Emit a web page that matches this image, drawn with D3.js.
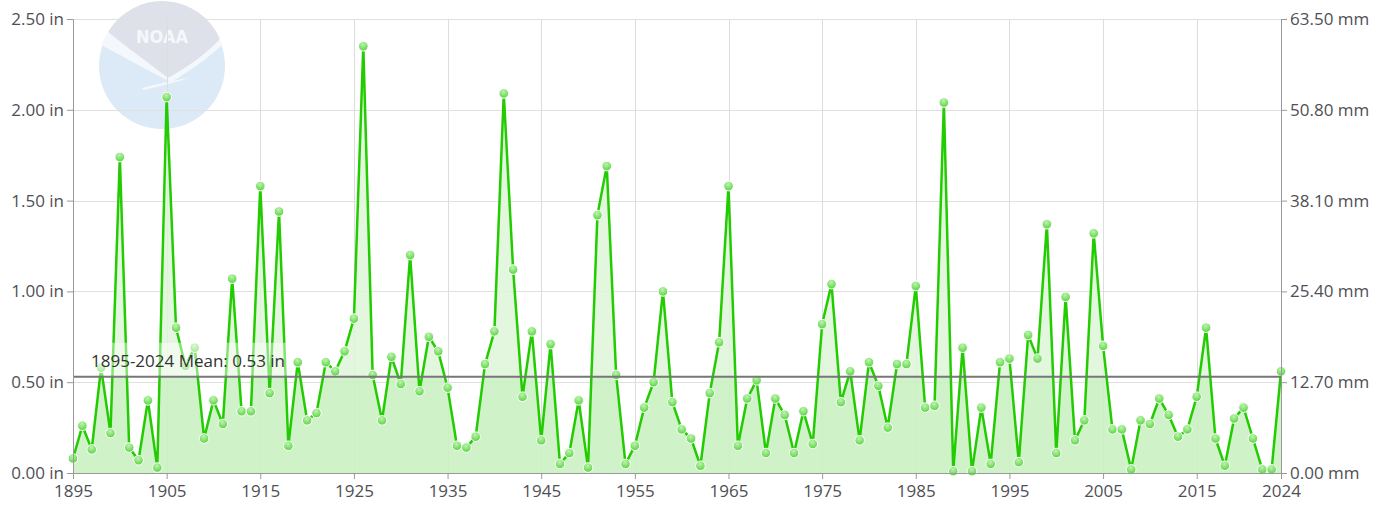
<!DOCTYPE html>
<html>
<head>
<meta charset="utf-8">
<script src="https://cdn.jsdelivr.net/npm/d3@7"></script>
<style>
  body { margin: 0; background: #fff; }
  text { font-family: "Open Sans", sans-serif; }
</style>
</head>
<body>
<svg id="chart" width="1390" height="508"></svg>
<script>
// yearly values, 1895-2024 (inches)
const years = d3.range(1895, 2025);
const precip = [
  0.08, 0.26, 0.13, 0.58, 0.22, 1.74, 0.14, 0.07, 0.40, 0.03,
  2.07, 0.80, 0.59, 0.69, 0.19, 0.40, 0.27, 1.07, 0.34, 0.34,
  1.58, 0.44, 1.44, 0.15, 0.61, 0.29, 0.33, 0.61, 0.56, 0.67,
  0.85, 2.35, 0.54, 0.29, 0.64, 0.49, 1.20, 0.45, 0.75, 0.67,
  0.47, 0.15, 0.14, 0.20, 0.60, 0.78, 2.09, 1.12, 0.42, 0.78,
  0.18, 0.71, 0.05, 0.11, 0.40, 0.03, 1.42, 1.69, 0.54, 0.05,
  0.15, 0.36, 0.50, 1.00, 0.39, 0.24, 0.19, 0.04, 0.44, 0.72,
  1.58, 0.15, 0.41, 0.51, 0.11, 0.41, 0.32, 0.11, 0.34, 0.16,
  0.82, 1.04, 0.39, 0.56, 0.18, 0.61, 0.48, 0.25, 0.60, 0.60,
  1.03, 0.36, 0.37, 2.04, 0.01, 0.69, 0.01, 0.36, 0.05, 0.61,
  0.63, 0.06, 0.76, 0.63, 1.37, 0.11, 0.97, 0.18, 0.29, 1.32,
  0.70, 0.24, 0.24, 0.02, 0.29, 0.27, 0.41, 0.32, 0.20, 0.24,
  0.42, 0.80, 0.19, 0.04, 0.30, 0.36, 0.19, 0.02, 0.02, 0.56
];
const meanValue = 0.53;
const meanLabel = "1895-2024 Mean: 0.53 in";
const yTicksIn = [0, 0.5, 1, 1.5, 2, 2.5];
const yTicksMm = ["0.00 mm", "12.70 mm", "25.40 mm", "38.10 mm", "50.80 mm", "63.50 mm"];
const xTickYears = [1895, 1905, 1915, 1925, 1935, 1945, 1955, 1965, 1975, 1985, 1995, 2005, 2015, 2024];

const data = years.map((yr, i) => ({ year: yr, value: precip[i] }));

const margin = { top: 19, right: 109, bottom: 35, left: 73 };
const width = 1390 - margin.left - margin.right;
const height = 508 - margin.top - margin.bottom;

const xScale = d3.scaleLinear().domain([1895, 2024]).range([0, width]);
const yScale = d3.scaleLinear().domain([0, 2.5]).range([height, 0]);

const root = d3.select("#chart");

// NOAA watermark
const logo = root.append("g").attr("transform", "translate(162,66)");
logo.append("circle").attr("r", 63).attr("fill", "#dbeaf6");
// grey upper cap
logo.append("path")
  .attr("d", "M-54,-34 A63,63 0 0 1 58,-27 C42,-10 24,2 6,12 C-12,-2 -34,-18 -54,-34 Z")
  .attr("fill", "#dfe1ea");
// white wings
logo.append("path")
  .attr("d", "M-54,-34 C-34,-18 -12,-2 6,12 C24,2 42,-10 58,-27 L60,-21 C44,-6 26,6 9,16 C-12,6 -36,-8 -61,-21 Z")
  .attr("fill", "#f4f7fb");
// tail
logo.append("path")
  .attr("d", "M-20,22 C-5,18 12,14 28,12 C14,16 0,20 -19,24 Z")
  .attr("fill", "#f4f7fb");
logo.append("text")
  .attr("x", 0).attr("y", -23)
  .attr("text-anchor", "middle")
  .attr("fill", "#f6f7fa")
  .style("font-family", "'DejaVu Sans Condensed', 'DejaVu Sans', sans-serif")
  .style("font-size", "18px")
  .style("font-weight", "bold")
  .text("NOAA");

const svg = root.append("g")
  .attr("transform", `translate(${margin.left}, ${margin.top})`);

// grid
svg.append("g").selectAll("line")
  .data(yTicksIn.filter(d => d > 0))
  .enter().append("line")
  .attr("x1", 0).attr("x2", width)
  .attr("y1", d => Math.round(yScale(d)) + 0.5)
  .attr("y2", d => Math.round(yScale(d)) + 0.5)
  .attr("stroke", "#e0e0e0");

svg.append("g").selectAll("line")
  .data(xTickYears.slice(1, -1))
  .enter().append("line")
  .attr("x1", d => Math.round(xScale(d)) + 0.5)
  .attr("x2", d => Math.round(xScale(d)) + 0.5)
  .attr("y1", 0).attr("y2", height)
  .attr("stroke", "#dddddd");

// area, split at the mean
const area = d3.area()
  .x(d => xScale(d.year))
  .y0(height)
  .y1(d => yScale(d.value));

const defs = root.append("defs");
defs.append("clipPath").attr("id", "above")
  .append("rect").attr("x", 0).attr("y", 0)
  .attr("width", width).attr("height", yScale(meanValue));
defs.append("clipPath").attr("id", "below")
  .append("rect").attr("x", 0).attr("y", yScale(meanValue))
  .attr("width", width).attr("height", height - yScale(meanValue));

const grad = defs.append("radialGradient").attr("id", "dot")
  .attr("cx", "45%").attr("cy", "30%").attr("r", "70%");
grad.append("stop").attr("offset", "0%").attr("stop-color", "#bdf3ae");
grad.append("stop").attr("offset", "100%").attr("stop-color", "#58d440");

svg.append("path").datum(data)
  .attr("d", area)
  .attr("fill", "#def6d8")
  .attr("fill-opacity", 0.85)
  .attr("clip-path", "url(#above)");

svg.append("path").datum(data)
  .attr("d", area)
  .attr("fill", "#cbf1c3")
  .attr("fill-opacity", 0.9)
  .attr("clip-path", "url(#below)");

// line
const line = d3.line()
  .x(d => xScale(d.year))
  .y(d => yScale(d.value));

svg.append("path").datum(data)
  .attr("d", line)
  .attr("fill", "none")
  .attr("stroke", "#22cc00")
  .attr("stroke-width", 2.5)
  .attr("stroke-linejoin", "round");

// markers
svg.append("g").selectAll("circle")
  .data(data)
  .enter().append("circle")
  .attr("cx", d => xScale(d.year))
  .attr("cy", d => yScale(d.value))
  .attr("r", 4.8)
  .attr("fill", "url(#dot)")
  .attr("stroke", "#ffffff")
  .attr("stroke-width", 1);

// mean line + label
svg.append("rect")
  .attr("x", 13).attr("y", yScale(meanValue) - 34)
  .attr("width", 206).attr("height", 33)
  .attr("fill", "#ffffff").attr("fill-opacity", 0.45);

svg.append("line")
  .attr("x1", 0).attr("x2", width)
  .attr("y1", yScale(meanValue)).attr("y2", yScale(meanValue))
  .attr("stroke", "#777777")
  .attr("stroke-width", 2);

svg.append("text")
  .attr("x", 18).attr("y", yScale(meanValue) - 10)
  .attr("fill", "#333333")
  .style("font-size", "17px")
  .text(meanLabel);

// axes
const xAxis = d3.axisBottom(xScale)
  .tickValues(xTickYears)
  .tickFormat(d3.format("d"))
  .tickSize(6).tickSizeOuter(0).tickPadding(6);

const yAxis = d3.axisLeft(yScale)
  .tickValues(yTicksIn)
  .tickFormat(d => d.toFixed(2) + " in")
  .tickSize(6).tickSizeOuter(0).tickPadding(3);

const yAxisMm = d3.axisRight(yScale)
  .tickValues(yTicksIn)
  .tickFormat((d, i) => yTicksMm[i])
  .tickSize(6).tickSizeOuter(0).tickPadding(3);

const gx = svg.append("g")
  .attr("class", "x-axis")
  .attr("transform", `translate(0, ${height})`)
  .call(xAxis);

const gy = svg.append("g")
  .attr("class", "y-axis")
  .call(yAxis);

const gy2 = svg.append("g")
  .attr("class", "y-axis-mm")
  .attr("transform", `translate(${width}, 0)`)
  .call(yAxisMm);

[gx, gy, gy2].forEach(g => {
  g.select(".domain").attr("stroke", "#999999");
  g.selectAll(".tick line").attr("stroke", "#999999");
  g.selectAll(".tick text")
    .attr("fill", "#4f4f55")
    .style("font-size", "17px")
    .style("font-family", "'Open Sans', sans-serif");
});
</script>
</body>
</html>
